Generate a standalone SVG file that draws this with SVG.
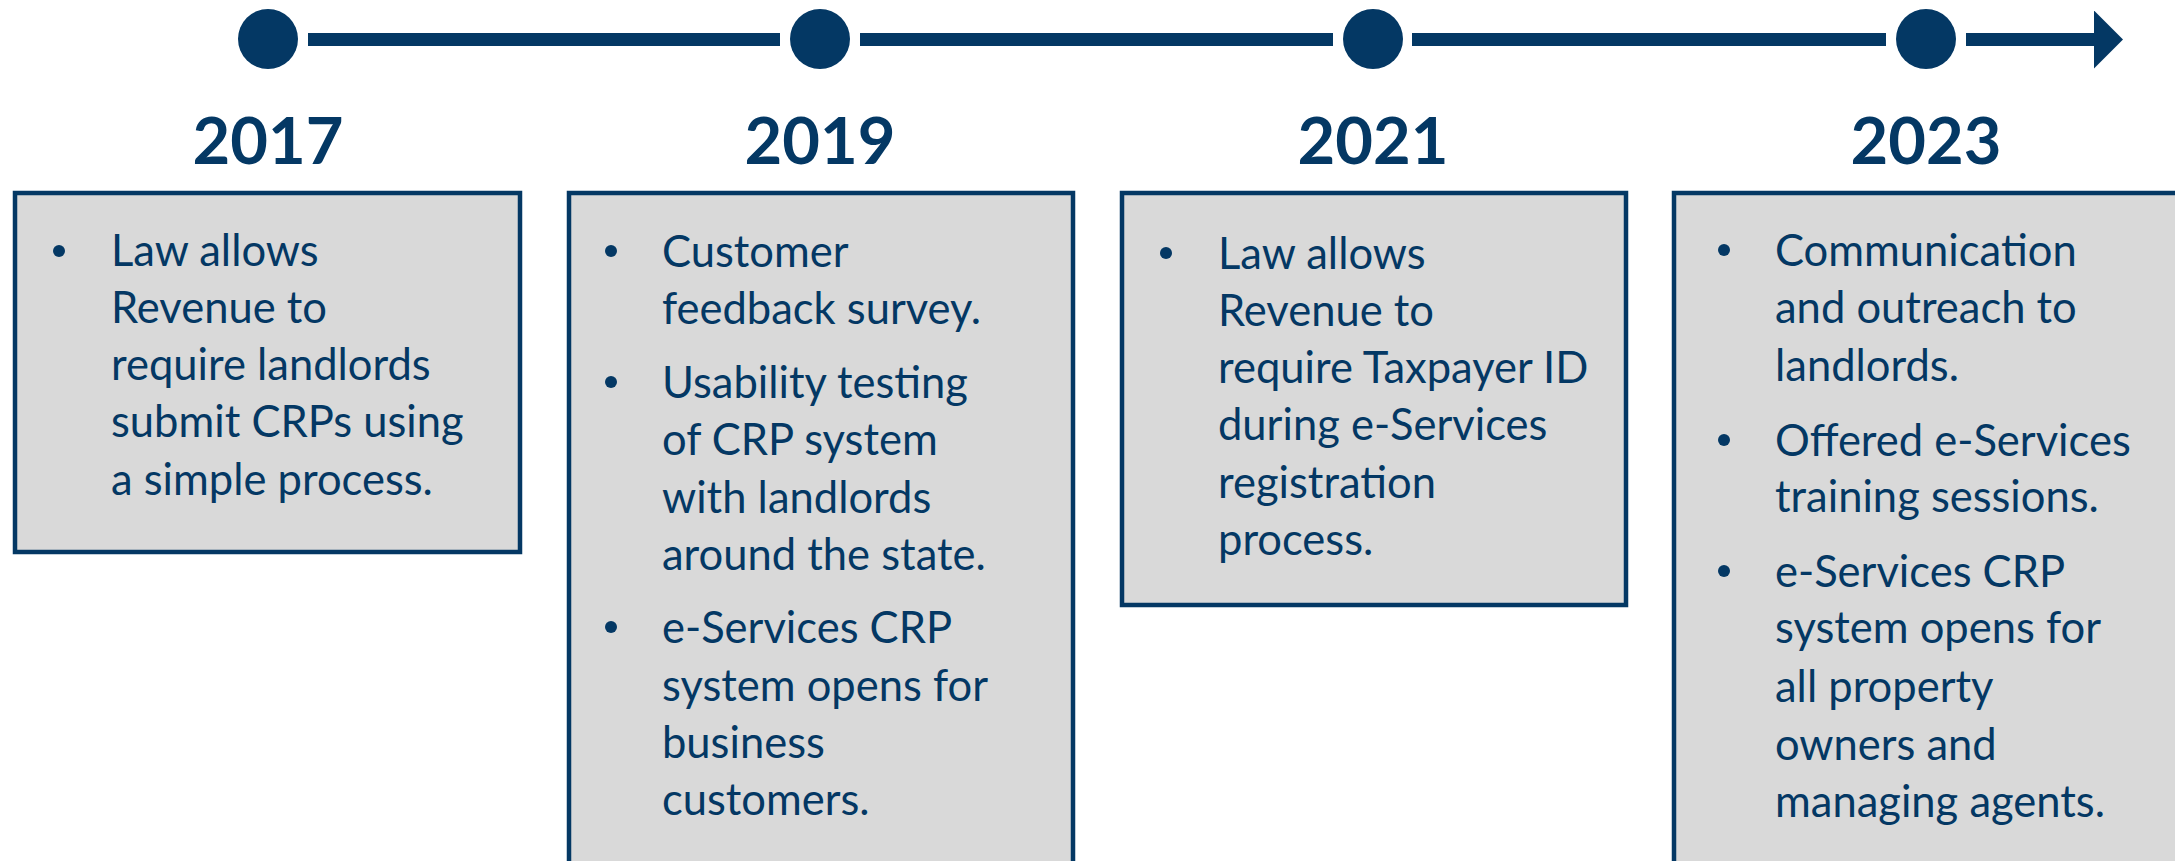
<svg xmlns="http://www.w3.org/2000/svg" width="2175" height="861" viewBox="0 0 2175 861">
<style>
.box{fill:#D9D9D9;stroke:#043864;stroke-width:4.5}
.yr{font-family:Lato,"Liberation Sans",sans-serif;font-weight:700;font-size:65px;fill:#043864;text-anchor:middle}
.t{font-family:Lato,"Liberation Sans",sans-serif;font-size:43.5px;fill:#043864}
.dot{fill:#043864}
.ln{stroke:#043864;stroke-width:13;fill:none}
</style>
<defs>
<marker id="ah" markerUnits="userSpaceOnUse" markerWidth="30" markerHeight="60" refX="0" refY="29" orient="auto"><path d="M0,0 L29,29 L0,58 Z" fill="#043864"/></marker>
</defs>
<g id="connectors">
<line class="ln" x1="308" y1="39.5" x2="780" y2="39.5"/>
<line class="ln" x1="860" y1="39.5" x2="1333" y2="39.5"/>
<line class="ln" x1="1412" y1="39.5" x2="1886" y2="39.5"/>
<line class="ln" x1="1966" y1="39.5" x2="2094" y2="39.5" marker-end="url(#ah)"/>
</g>
<g id="n2017">
<circle class="dot" cx="268" cy="39" r="30"/>
<text class="yr" x="268" y="164">2017</text>
<rect class="box" x="15" y="193" width="505" height="359"/>
<circle class="dot" cx="59" cy="251" r="6"/>
<text class="t"><tspan x="111" y="266">Law allows</tspan><tspan x="111" y="323">Revenue to</tspan><tspan x="111" y="380">require landlords</tspan><tspan x="111" y="437">submit CRPs using</tspan><tspan x="111" y="495">a simple process.</tspan></text>
</g>
<g id="n2019">
<circle class="dot" cx="820" cy="39" r="30"/>
<text class="yr" x="820" y="164">2019</text>
<rect class="box" x="569" y="193" width="504" height="690"/>
<circle class="dot" cx="611" cy="251" r="6"/>
<circle class="dot" cx="611" cy="382" r="6"/>
<circle class="dot" cx="611" cy="627" r="6"/>
<text class="t"><tspan x="662" y="267">Customer</tspan><tspan x="662" y="324">feedback survey.</tspan><tspan x="662" y="398">Usability testing</tspan><tspan x="662" y="455">of CRP system</tspan><tspan x="662" y="513">with landlords</tspan><tspan x="662" y="570">around the state.</tspan><tspan x="662" y="643">e-Services CRP</tspan><tspan x="662" y="701">system opens for</tspan><tspan x="662" y="758">business</tspan><tspan x="662" y="815">customers.</tspan></text>
</g>
<g id="n2021">
<circle class="dot" cx="1373" cy="39" r="30"/>
<text class="yr" x="1373" y="164">2021</text>
<rect class="box" x="1122" y="193" width="504" height="412"/>
<circle class="dot" cx="1166" cy="253" r="6"/>
<text class="t"><tspan x="1218" y="269">Law allows</tspan><tspan x="1218" y="326">Revenue to</tspan><tspan x="1218" y="383">require Taxpayer ID</tspan><tspan x="1218" y="440">during e-Services</tspan><tspan x="1218" y="498">registration</tspan><tspan x="1218" y="555">process.</tspan></text>
</g>
<g id="n2023">
<circle class="dot" cx="1926" cy="39" r="30"/>
<text class="yr" x="1926" y="164">2023</text>
<rect class="box" x="1674" y="193" width="510" height="690"/>
<circle class="dot" cx="1724" cy="250" r="6"/>
<circle class="dot" cx="1724" cy="440" r="6"/>
<circle class="dot" cx="1724" cy="571" r="6"/>
<text class="t"><tspan x="1775" y="266">Communication</tspan><tspan x="1775" y="323">and outreach to</tspan><tspan x="1775" y="381">landlords.</tspan><tspan x="1775" y="456">Offered e-Services</tspan><tspan x="1775" y="512">training sessions.</tspan><tspan x="1775" y="587">e-Services CRP</tspan><tspan x="1775" y="643">system opens for</tspan><tspan x="1775" y="702">all property</tspan><tspan x="1775" y="760">owners and</tspan><tspan x="1775" y="817">managing agents.</tspan></text>
</g>
</svg>
